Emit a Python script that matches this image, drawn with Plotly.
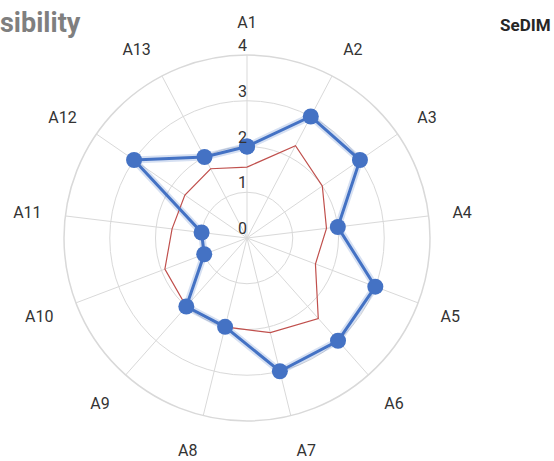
import plotly.graph_objects as go

# Criteria around the radar, clockwise from the top
categories = ["A1", "A2", "A3", "A4", "A5", "A6", "A7",
              "A8", "A9", "A10", "A11", "A12", "A13"]

# SeDIM scores (blue, with markers)
sedim_scores = [2, 3, 3, 2, 3, 3, 3, 2, 2, 1, 1, 3, 2]

# Reference profile (thin red line)
reference_scores = [1.55, 2.28, 2.0, 1.75, 1.6, 2.35, 2.13,
                    2.0, 2.0, 1.92, 1.65, 1.65, 1.71]

# Radial scale labels
radial_ticks = [0, 1, 2, 3, 4]

BLUE = "#4472c4"
RED = "#c0504d"
GRID = "#d9d9d9"
FONT = "Roboto"


def closed(values):
    return list(values) + [values[0]]


theta = closed(categories)

fig = go.Figure()

# soft glow under the main series
fig.add_trace(go.Scatterpolar(
    r=closed(sedim_scores), theta=theta, mode="lines",
    line=dict(color="rgba(68,114,196,0.22)", width=7),
    hoverinfo="skip", showlegend=False,
))

fig.add_trace(go.Scatterpolar(
    r=closed(reference_scores), theta=theta, mode="lines",
    line=dict(color=RED, width=1.2),
    name="Reference", showlegend=False,
))

fig.add_trace(go.Scatterpolar(
    r=closed(sedim_scores), theta=theta, mode="lines+markers",
    line=dict(color=BLUE, width=3),
    marker=dict(color=BLUE, size=16),
    name="SeDIM", showlegend=False,
))

# scale numbers drawn beside the vertical spoke
fig.add_trace(go.Scatterpolar(
    r=radial_ticks, theta=[categories[0]] * len(radial_ticks),
    mode="text", text=[str(v) for v in radial_ticks],
    textposition="top left",
    textfont=dict(family=FONT, size=16, color="#333333"),
    hoverinfo="skip", showlegend=False,
))

W, H = 554, 461
cx, cy, R = 247, 238, 183

fig.update_layout(
    width=W, height=H,
    margin=dict(l=0, r=0, t=0, b=0),
    paper_bgcolor="white",
    plot_bgcolor="white",
    polar=dict(
        domain=dict(x=[(cx - R) / W, (cx + R) / W],
                    y=[(H - cy - R) / H, (H - cy + R) / H]),
        bgcolor="white",
        radialaxis=dict(
            range=[0, 4], tickvals=radial_ticks, showticklabels=False,
            ticks="", showline=False, gridcolor=GRID, gridwidth=1,
            angle=90,
        ),
        angularaxis=dict(
            rotation=90, direction="clockwise",
            categoryorder="array", categoryarray=categories,
            showline=True, linecolor=GRID, linewidth=1.5,
            gridcolor=GRID, gridwidth=1,
            ticks="outside", ticklen=20, tickcolor="rgba(0,0,0,0)",
            tickfont=dict(family=FONT, size=16, color="#333333"),
        ),
    ),
    annotations=[
        dict(text="<b>sibility</b>", x=-2, y=H - 23, xref="paper", yref="paper",
             xanchor="left", yanchor="middle", showarrow=False,
             font=dict(family=FONT, size=27, color="#7f7f7f")),
        dict(text="<b>SeDIM</b>", x=525, y=H - 25, xref="paper", yref="paper",
             xanchor="center", yanchor="middle", showarrow=False,
             font=dict(family=FONT, size=17, color="#262626")),
    ],
)

# annotations above use pixel coordinates; convert to paper fractions
for ann in fig.layout.annotations:
    ann.x = ann.x / W
    ann.y = ann.y / H

fig.write_html("out.html")
